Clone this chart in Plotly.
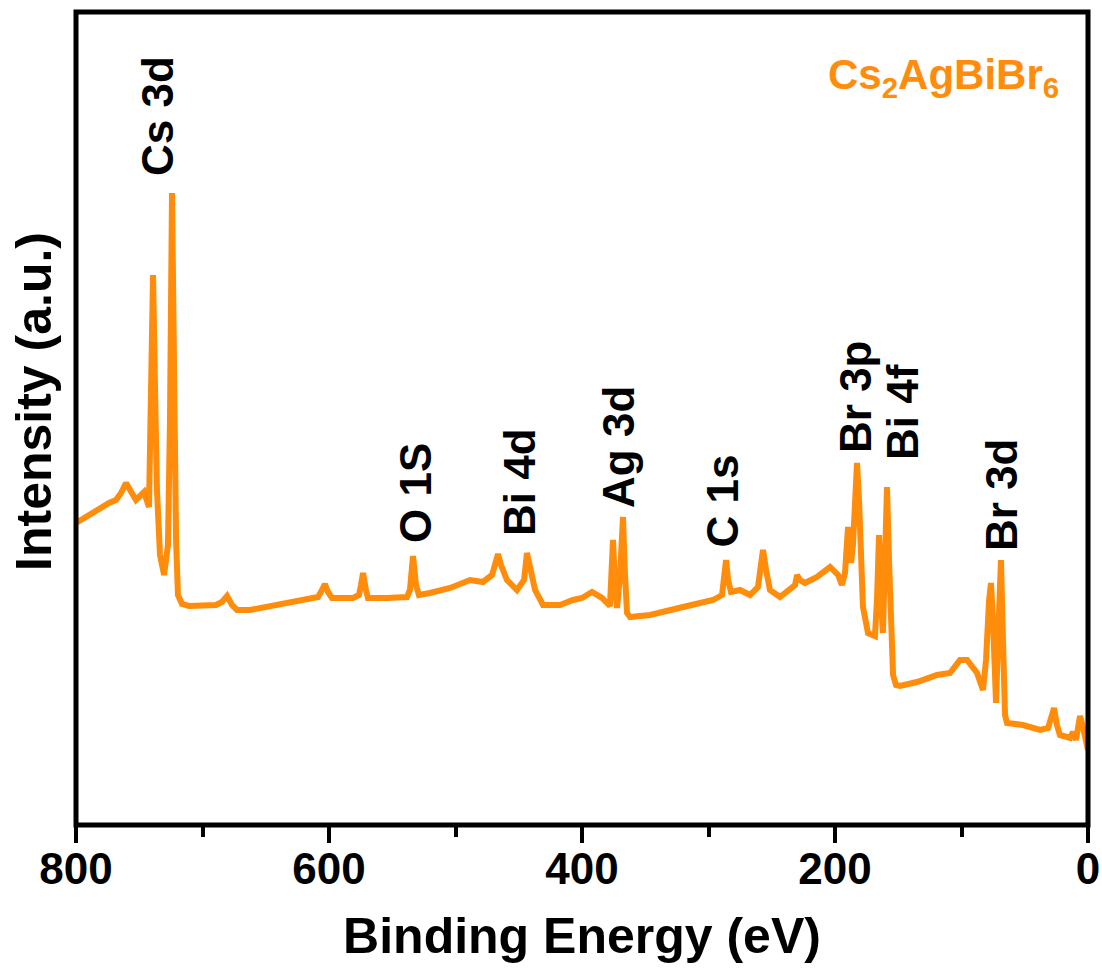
import plotly.graph_objects as go

# Binding energy (eV) and intensity (a.u.)
energy = [
    800.0, 793.7, 787.4, 781.0, 773.9, 768.4, 764.4, 760.5, 756.5, 752.6,
    749.4, 746.2, 742.3, 740.7, 739.1, 737.5, 736.0, 733.6, 730.4, 727.3,
    725.7, 724.1, 722.5, 720.9, 719.4, 716.2, 710.7, 702.0, 689.3, 684.6,
    680.6, 676.7, 672.7, 662.5, 644.3, 620.6, 608.7, 605.5, 603.2, 600.8,
    597.6, 581.0, 576.3, 574.7, 573.1, 570.8, 569.2, 554.1, 538.3, 536.0,
    533.6, 531.2, 528.9, 520.2, 504.3, 488.5, 478.3, 471.1, 468.8, 466.4,
    464.0, 459.3, 451.4, 445.8, 443.5, 441.1, 437.1, 430.8, 417.4, 407.1,
    400.0, 392.1, 384.2, 377.9, 375.5, 373.9, 372.3, 369.9, 367.6, 366.0,
    364.4, 362.0, 346.2, 320.1, 296.4, 289.3, 287.7, 286.1, 284.5, 282.2,
    275.1, 267.2, 260.9, 259.3, 256.9, 254.5, 251.4, 243.5, 235.6, 231.6,
    230.0, 227.7, 223.7, 214.2, 203.9, 197.6, 194.5, 192.1, 189.7, 187.3,
    185.8, 184.2, 182.6, 181.0, 179.4, 177.9, 173.9, 168.4, 166.8, 165.2,
    163.6, 162.1, 160.5, 158.9, 157.3, 155.7, 154.1, 151.8, 148.6, 135.2,
    119.4, 109.1, 105.1, 101.2, 95.6, 87.7, 83.0, 80.6, 78.2, 76.7,
    75.1, 72.7, 71.1, 68.8, 67.2, 65.6, 64.0, 51.4, 37.9, 31.6,
    29.2, 26.9, 24.5, 22.2, 14.2, 11.9, 9.5, 7.9, 6.3, 4.0,
    1.6, 0.0,
]
intensity = [
    302, 307, 311, 317, 322, 325, 332, 342, 333, 325,
    329, 333, 318, 405, 550, 435, 335, 270, 250, 280,
    405, 632, 445, 285, 230, 221, 219, 220, 220, 223,
    229, 220, 215, 215, 219, 225, 228, 235, 241, 233,
    227, 227, 230, 240, 252, 235, 227, 227, 228, 235,
    269, 240, 230, 232, 237, 245, 243, 250, 260, 271,
    260, 245, 235, 245, 272, 255, 235, 220, 220, 225,
    227, 233, 227, 219, 285, 240, 217, 250, 308, 250,
    212, 208, 210, 218, 225, 230, 245, 265, 245, 233,
    235, 230, 238, 255, 275, 255, 235, 228, 235, 240,
    250, 245, 242, 248, 258, 250, 240, 252, 298, 262,
    280, 325, 362, 325, 265, 218, 192, 189, 225, 290,
    225, 192, 265, 338, 265, 185, 150, 140, 139, 143,
    150, 152, 160, 165, 165, 152, 135, 165, 225, 242,
    205, 122, 185, 265, 185, 110, 102, 100, 95, 97,
    107, 117, 100, 90, 87, 93, 85, 97, 109, 98,
    80, 75,
]

peak_labels = ["Cs 3d", "O 1S", "Bi 4d", "Ag 3d", "C 1s", "Br 3p", "Bi 4f", "Br 3d"]
label_x = [736.0, 532.0, 449.8, 371.6, 289.3, 184.2, 147.0, 68.8]
label_y = [647, 280, 287, 315, 275, 370, 363, 272]

x_ticks = [800, 600, 400, 200, 0]

ORANGE = "#FF8C0A"
FONT = "Liberation Sans, Arial, sans-serif"

fig = go.Figure()
fig.add_trace(go.Scatter(
    x=energy, y=intensity, mode="lines",
    line=dict(color=ORANGE, width=6),
    showlegend=False, hoverinfo="skip",
))

for name, lx, ly in zip(peak_labels, label_x, label_y):
    fig.add_annotation(
        x=lx, y=ly, xref="x", yref="y", text="<b>%s</b>" % name,
        textangle=-90, showarrow=False, xanchor="center", yanchor="bottom",
        font=dict(family=FONT, size=44, color="black"),
    )

fig.add_annotation(
    x=0.857, y=0.919, xref="paper", yref="paper",
    text="<b>Cs<sub>2</sub>AgBiBr<sub>6</sub></b>",
    showarrow=False, xanchor="center", yanchor="middle",
    font=dict(family=FONT, size=42, color=ORANGE),
)

# y-axis title (placed as annotation to match the reference's vertical offset)
fig.add_annotation(
    x=-0.041, y=0.521, xref="paper", yref="paper",
    text="<b>Intensity (a.u.)</b>", textangle=-90, showarrow=False,
    xanchor="center", yanchor="middle",
    font=dict(family=FONT, size=50, color="black"),
)

fig.add_shape(type="rect", xref="paper", yref="paper", x0=0, x1=1, y0=0, y1=1,
              line=dict(color="black", width=5), layer="above")

fig.update_layout(
    width=1102, height=968,
    margin=dict(l=76, r=14, t=12, b=143),
    paper_bgcolor="white", plot_bgcolor="white",
    font=dict(family=FONT, color="black"),
    xaxis=dict(
        range=[800, 0], tickvals=x_ticks, ticktext=["<b>%d</b>" % v for v in x_ticks],
        ticks="outside", ticklen=17, tickwidth=4, tickcolor="black",
        minor=dict(dtick=100, tick0=0, ticks="outside", ticklen=11, tickwidth=4, tickcolor="black"),
        showgrid=False, zeroline=False, showline=False, automargin=False,
        tickfont=dict(family=FONT, size=44, color="black"),
        ticklabelstandoff=-12,
        title=dict(text="<b>Binding Energy (eV)</b>", font=dict(family=FONT, size=50, color="black"),
                   standoff=26),
    ),
    yaxis=dict(
        range=[0, 813], showticklabels=False, ticks="", showgrid=False,
        zeroline=False, showline=False, automargin=False,
    ),
)

fig.write_html("out.html")
